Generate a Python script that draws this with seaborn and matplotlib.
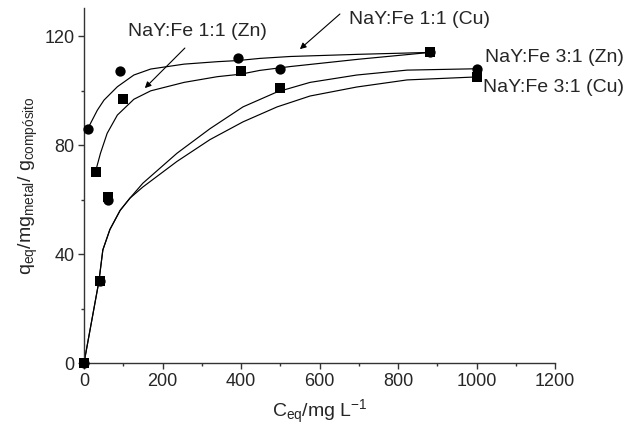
import matplotlib
matplotlib.use("Agg")
import matplotlib.pyplot as plt
import seaborn as sns
import pandas as pd

# ---- measured data points ----
x_11_circ = [10, 92, 393, 882]
y_11_circ = [86, 107, 112, 114]
x_11_sq = [30, 100, 400, 882]
y_11_sq = [70, 97, 107, 114]
x_31_circ = [0, 40, 60, 500, 1000]
y_31_circ = [0, 30, 60, 108, 108]
x_31_sq = [0, 40, 60, 500, 1000]
y_31_sq = [0, 30, 61, 101, 105]

# ---- fitted curves ----
cx_11_circ = [10, 34, 51, 85, 127, 170, 255, 340, 391, 448, 525, 700, 882]
cy_11_circ = [86.1, 92.8, 96.5, 101.4, 105.7, 107.9, 109.7, 110.6, 111.0, 111.8, 112.5, 113.3, 114]
cx_11_sq = [30, 42, 59, 85, 127, 170, 255, 340, 399, 448, 525, 700, 882]
cy_11_sq = [70.6, 77, 84.3, 91, 96.8, 99.9, 103, 105.1, 106, 107.4, 108.8, 111.5, 114]
cx_31_zn = [0, 38, 48, 66, 92, 117, 150, 237, 321, 405, 492, 576, 695, 823, 1000]
cy_31_zn = [0, 30, 41.5, 49, 56, 60.5, 66, 77, 86, 94, 99.5, 103, 105.7, 107.5, 108]
cx_31_cu = [0, 38, 48, 66, 92, 117, 150, 237, 321, 405, 492, 576, 695, 823, 1000]
cy_31_cu = [0, 30, 41.5, 49, 56, 60.5, 64.6, 74, 82, 88.5, 94, 98, 101.3, 103.9, 105]

labels = ["NaY:Fe 1:1 (Zn)", "NaY:Fe 1:1 (Cu)", "NaY:Fe 3:1 (Zn)", "NaY:Fe 3:1 (Cu)"]
xticks = [0, 200, 400, 600, 800, 1000, 1200]
yticks = [0, 40, 80, 120]

sns.set_theme(style="ticks")
plt.rcParams["font.family"] = ["Liberation Sans", "DejaVu Sans"]
plt.rcParams["mathtext.fontset"] = "custom"
plt.rcParams["mathtext.rm"] = "Liberation Sans"
plt.rcParams["mathtext.it"] = "Liberation Sans"

fig = plt.figure(figsize=(6.24, 4.32), dpi=100)
ax = fig.add_axes([84 / 624, 1 - 363 / 432, (555 - 84) / 624, (363 - 8) / 432])

for cx, cy in [(cx_11_circ, cy_11_circ), (cx_11_sq, cy_11_sq),
               (cx_31_zn, cy_31_zn), (cx_31_cu, cy_31_cu)]:
    df = pd.DataFrame({"x": cx, "y": cy})
    sns.lineplot(data=df, x="x", y="y", ax=ax, color="black", lw=0.85,
                 sort=False, estimator=None)

for xs, ys, m, sz in [(x_11_circ, y_11_circ, "o", 55), (x_11_sq, y_11_sq, "s", 45),
                      (x_31_circ, y_31_circ, "o", 55), (x_31_sq, y_31_sq, "s", 45)]:
    df = pd.DataFrame({"x": xs, "y": ys})
    sns.scatterplot(data=df, x="x", y="y", ax=ax, color="black", marker=m,
                    s=sz, edgecolor="black", linewidth=0, zorder=5, clip_on=False)

ax.set_xlim(0, 1200)
ax.set_ylim(0, 130.3)
ax.set_xticks(xticks)
ax.set_yticks(yticks)
ax.set_xticks(range(100, 1200, 200), minor=True)
ax.set_yticks([20, 60, 100], minor=True)
ax.tick_params(axis="both", which="major", direction="out", length=4, width=1,
               labelsize=13, color="#333333", pad=3)
ax.tick_params(axis="both", which="minor", direction="out", length=2.5, width=1,
               color="#333333")
sns.despine(ax=ax)
for s in ["left", "bottom"]:
    ax.spines[s].set_linewidth(1.0)
    ax.spines[s].set_color("#333333")

ax.set_xlabel(r"$\mathrm{C_{eq}/mg\ L^{-1}}$", fontsize=14, labelpad=6)
ax.set_ylabel(r"$\mathrm{q_{eq}/mg_{metal}/\ g_{compósito}}$", fontsize=14, labelpad=3)

arrow_kw = dict(arrowstyle="-|>", color="black", lw=0.8, mutation_scale=9,
                shrinkA=0, shrinkB=0)
ax.annotate("", xy=(155, 100.9), xytext=(257, 115.6), arrowprops=arrow_kw)
ax.annotate("", xy=(550, 115.2), xytext=(652, 128.1), arrowprops=arrow_kw,
            annotation_clip=False)
ax.text(288, 121.5, labels[0], fontsize=14, ha="center", va="center")
ax.text(856, 125.9, labels[1], fontsize=14, ha="center", va="center", clip_on=False)
ax.text(1022, 112, labels[2], fontsize=14, ha="left", va="center", clip_on=False)
ax.text(1017, 101, labels[3], fontsize=14, ha="left", va="center", clip_on=False)

fig.savefig("out.png", dpi=100)
